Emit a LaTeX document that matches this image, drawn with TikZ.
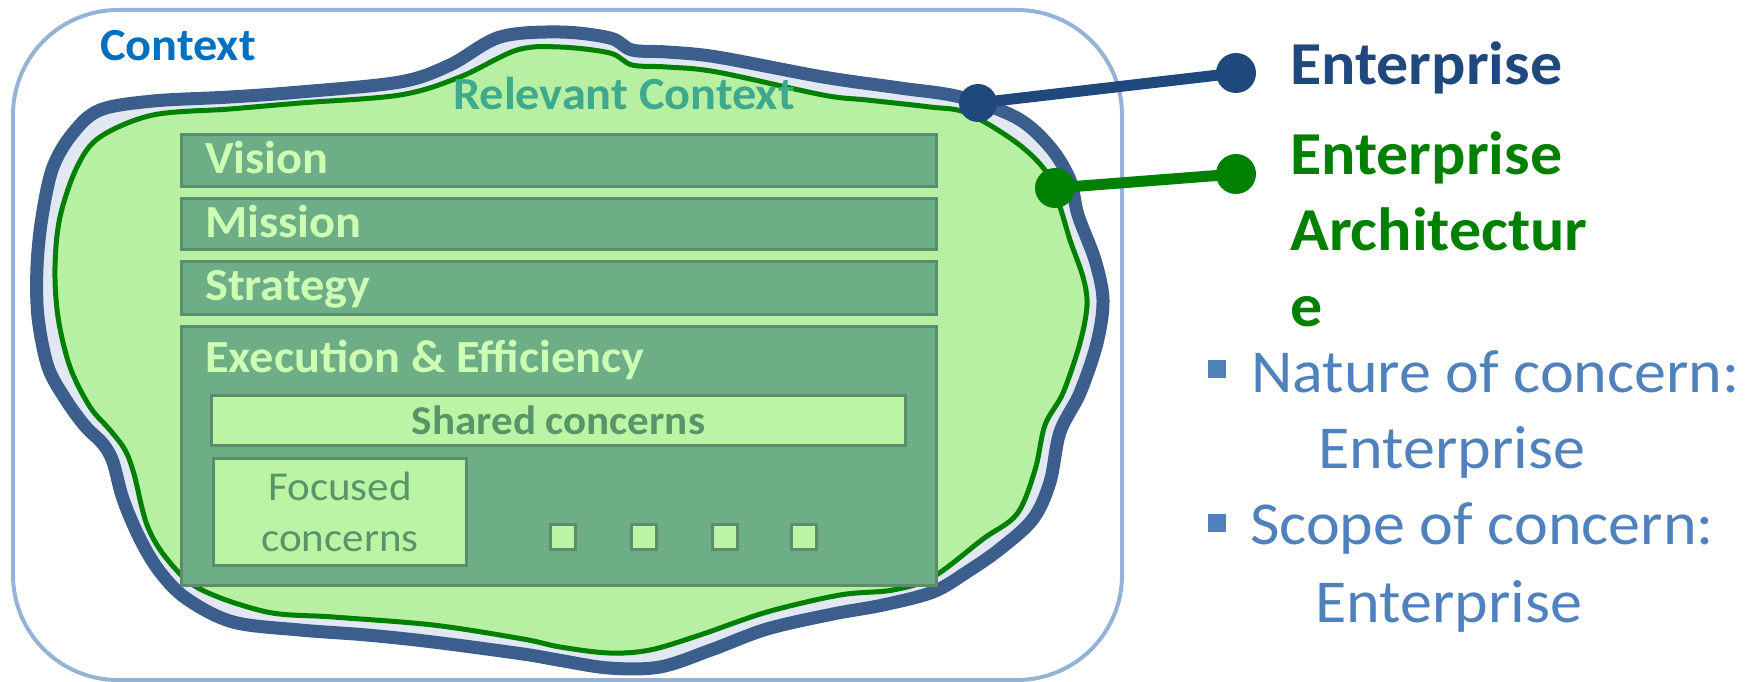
\documentclass[tikz,border=0pt]{standalone}
\usepackage{fontspec}
\setmainfont{Carlito}[FakeStretch=1.05]
\definecolor{ctxline}{HTML}{95B3D7}
\definecolor{ctxtext}{HTML}{0070C0}
\definecolor{band}{HTML}{3B5E8C}
\definecolor{gapfill}{HTML}{E2E8F2}
\definecolor{eagreen}{HTML}{008000}
\definecolor{eafill}{HTML}{B7F0A2}
\definecolor{barfill}{HTML}{6EAE86}
\definecolor{barline}{HTML}{5C8C6C}
\definecolor{bartxt}{HTML}{CCFFB4}
\definecolor{boxfill}{HTML}{BAF4A4}
\definecolor{boxtxt}{HTML}{58966A}
\definecolor{reltxt}{HTML}{3FA98E}
\definecolor{entblue}{HTML}{1F497D}
\definecolor{bultxt}{HTML}{4F81BD}
\begin{document}
\begin{tikzpicture}[x=1pt,y=-1pt,
  ctxbox/.style={draw=ctxline, line width=4pt, rounded corners=105pt},
  bandblob/.style={draw=band, line width=13pt, fill=gapfill},
  eablob/.style={draw=eagreen, line width=5pt, fill=eafill},
  barbox/.style={draw=barline, line width=3pt, fill=barfill, inner sep=0pt, anchor=north west, minimum width=755pt},
  bartext/.style={font=\bfseries\fontsize{46}{56}\selectfont, text=bartxt, inner sep=0pt, anchor=base west},
  innerbox/.style={draw=barline, line width=3pt, fill=boxfill, inner sep=0pt, anchor=north west, text=boxtxt},
  smallsq/.style={draw=barline, line width=3pt, fill=boxfill, inner sep=0pt, minimum size=25pt},
  dotE/.style={circle, fill=entblue, inner sep=0pt, minimum size=38pt},
  dotA/.style={circle, fill=eagreen, inner sep=0pt, minimum size=40pt},
  conn/.style={line width=11pt},
  bigbold/.style={font=\bfseries\fontsize{61}{74}\selectfont, inner sep=0pt, anchor=base west},
  bultext/.style={font=\fontsize{61}{74}\selectfont, text=bultxt, inner sep=0pt, anchor=base west},
  bulsq/.style={fill=bultxt, inner sep=0pt, minimum size=18pt}]
\useasboundingbox (0,0) rectangle (1750,682);
% context
\draw[ctxbox] (13,10) rectangle (1122,680);
\node[inner sep=0pt, anchor=base west, text=ctxtext, font=\bfseries\fontsize{46}{56}\selectfont] (ctx) at (100,61) {Context};
% enterprise blob
\draw[bandblob] plot[smooth cycle, tension=0.55] coordinates {
 (38,317) (37,267) (42,217) (53,167) (73,133) (100,110) (153,101) (230,97) (300,92)
 (400,82) (450,65) (500,37) (560,32) (610,38) (632,50) (667,52) (717,57) (823,77)
 (900,88) (960,97) (1017,118) (1050,147) (1070,180) (1078,215) (1095,260) (1103,300)
 (1097,343) (1080,393) (1060,432) (1050,482) (1033,519) (1000,549) (967,572) (933,592)
 (883,605) (833,614) (767,629) (711,650) (660,667) (609,668) (558,660) (523,654)
 (433,642) (367,635) (300,630) (233,622) (187,599) (160,572) (140,539) (123,499)
 (113,462) (103,444) (85,426) (66,400) (48,367)};
% EA blob
\draw[eablob] plot[smooth cycle, tension=0.55] coordinates {
 (58,317) (55,267) (60,217) (77,167) (100,137) (153,115) (230,109) (300,103)
 (400,95) (460,77) (517,50) (560,47) (610,53) (632,65) (667,67) (717,72) (823,95)
 (867,100) (930,107) (967,113) (1017,143) (1047,173) (1060,207) (1070,240) (1083,277)
 (1087,305) (1080,343) (1063,393) (1045,425) (1035,470) (1017,514) (983,539) (933,577)
 (893,590) (840,595) (767,612) (700,635) (650,650) (609,653) (560,647) (523,639)
 (433,625) (333,617) (267,612) (200,589) (167,559) (147,525) (134,474) (125,450)
 (110,430) (90,407) (70,367)};
\node[inner sep=0pt, anchor=base west, text=reltxt, font=\bfseries\fontsize{46}{56}\selectfont] (rel) at (453,110) {Relevant Context};
% bars
\node[barbox, minimum height=52pt] (vision) at (180,133) {};
\node[barbox, minimum height=51pt] (mission) at (180,197) {};
\node[barbox, minimum height=53pt] (strategy) at (180,260) {};
\node[barbox, minimum height=259pt] (execution) at (180,325) {};
\node[bartext] (visiont) at (205,173) {Vision};
\node[bartext] (missiont) at (205,237) {Mission};
\node[bartext] (strategyt) at (205,300) {Strategy};
\node[bartext] (executiont) at (205,372) {Execution \& Efficiency};
\node[innerbox, minimum width=694pt, minimum height=50pt, font=\bfseries\fontsize{41}{50}\selectfont] (shared) at (210,394) {Shared concerns};
\node[innerbox, minimum width=253pt, minimum height=107pt, align=center, font=\fontsize{41}{51}\selectfont] (focused) at (212,457) {Focused\\concerns};
\node[smallsq] (sq1) at (563,537) {};
\node[smallsq] (sq2) at (644,537) {};
\node[smallsq] (sq3) at (725,537) {};
\node[smallsq] (sq4) at (804,537) {};
% connectors
\node[dotE] (entA) at (978,103) {};
\node[dotE, minimum size=40pt] (entB) at (1236,73) {};
\node[dotA] (eaA) at (1055,188) {};
\node[dotA] (eaB) at (1236,174) {};
\draw[conn, entblue] (entA.center) -- (entB.center);
\draw[conn, eagreen] (eaA.center) -- (eaB.center);
% right labels
\node[bigbold, text=entblue] (entlbl) at (1290,85) {Enterprise};
\node[bigbold, text=eagreen] (ealbl) at (1290,174) {\vtop{\baselineskip=76pt\lineskiplimit=-200pt\hbox{Enterprise}\hbox{Architectur}\hbox{e}}};
\node[bulsq] (bul1) at (1217,369) {};
\node[bulsq] (bul2) at (1217,523) {};
\node[bultext] (nature) at (1251,392) {\vtop{\baselineskip=76pt\lineskiplimit=-200pt\hbox{Nature of concern:}\hbox{\hspace*{67pt}Enterprise}}};
\node[bultext] (scope) at (1250,544) {\vtop{\baselineskip=78pt\lineskiplimit=-200pt\hbox{Scope of concern:}\hbox{\hspace*{65pt}Enterprise}}};
\end{tikzpicture}
\end{document}
